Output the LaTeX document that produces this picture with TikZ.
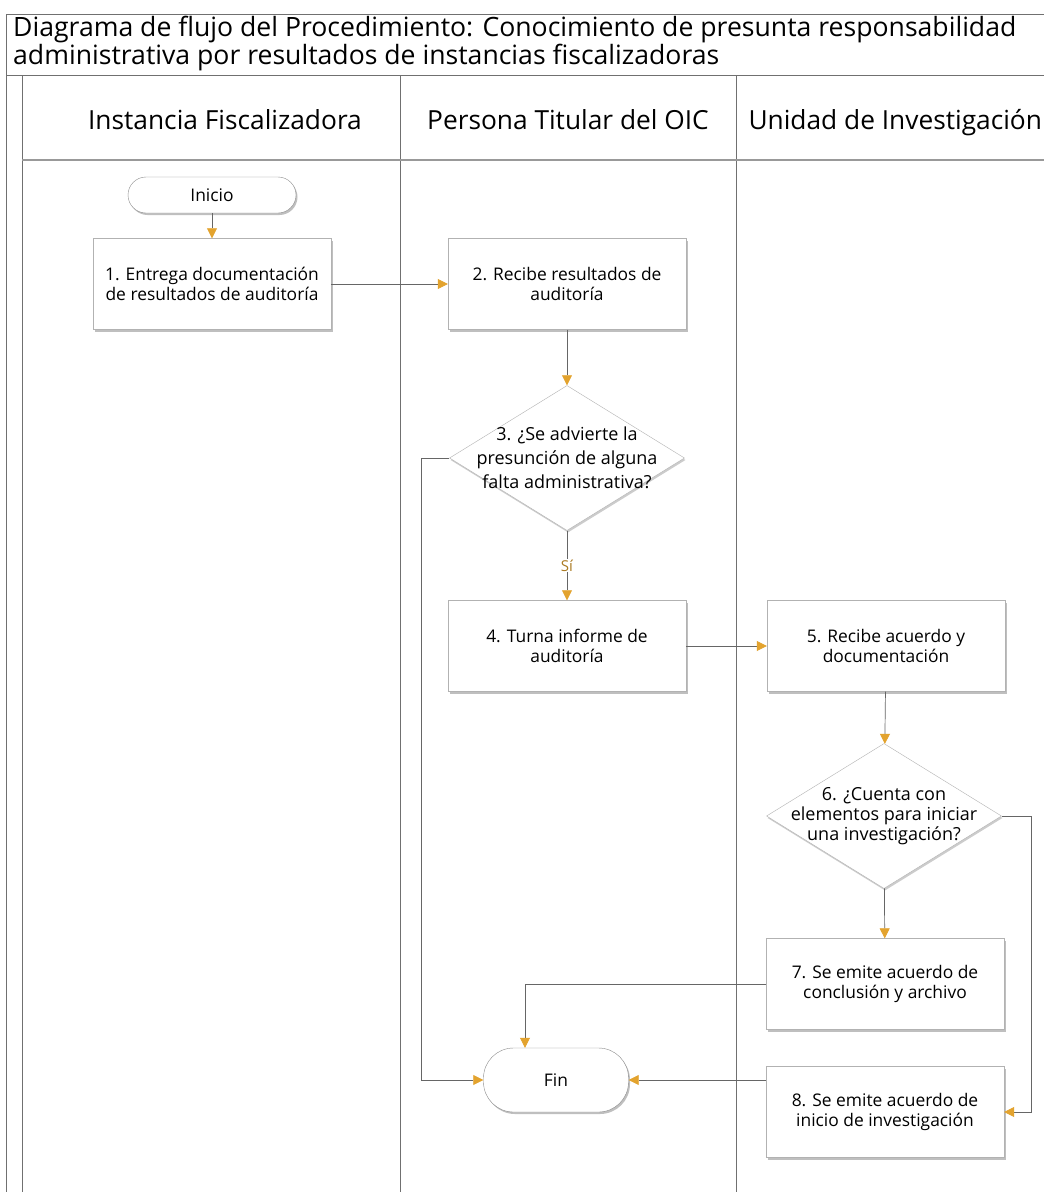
\documentclass[tikz,border=0pt]{standalone}
\usepackage{fontspec}
\setmainfont{Open Sans}
\usetikzlibrary{arrows.meta,shapes.geometric,shadows}
\definecolor{tipgold}{HTML}{E3A32E}
\definecolor{linegray}{HTML}{666666}
\definecolor{framegray}{HTML}{707070}
\begin{document}
\begin{tikzpicture}[x=1pt,y=-1pt,
  frame/.style={draw=framegray, line width=0.8pt},
  proc/.style={draw=black!30, fill=white, minimum width=238pt, minimum height=91pt,
    inner sep=2pt, align=center, font=\fontsize{17.4}{20}\selectfont,
    drop shadow={shadow xshift=1.5pt, shadow yshift=-2.5pt, opacity=0.25, fill=black}},
  term/.style={draw=black!45, fill=white, align=center, font=\fontsize{17.4}{20}\selectfont,
    drop shadow={shadow xshift=1.5pt, shadow yshift=-2pt, opacity=0.25, fill=black}},
  decision/.style={diamond, draw=black!30, fill=white, minimum width=235pt, minimum height=145pt,
    inner sep=0pt,
    drop shadow={shadow xshift=1pt, shadow yshift=-2pt, opacity=0.2, fill=black}},
  dtext/.style={align=center, font=\fontsize{18}{24}\selectfont},
  flow/.style={draw=linegray, line width=0.7pt, -{Triangle[length=10pt,width=10pt,color=tipgold]}},
  lane/.style={font=\fontsize{26.3}{28}\selectfont, anchor=base},
  ttl/.style={font=\fontsize{26.6}{28}\selectfont, align=left, anchor=north west, inner sep=0pt}
]
\useasboundingbox (0,0) rectangle (1044,1192);
\fill[white] (0,0) rectangle (1044,1192);
% frame
\draw[frame] (6,1192) -- (6,14) -- (1044,14);
\draw[frame] (6,75) -- (1044,75);
\draw[frame] (22,75) -- (22,1192);
\draw[frame] (400,75) -- (400,1192);
\draw[frame] (736,75) -- (736,1192);
\draw[draw=black!40, line width=1.4pt] (22,160) -- (1044,160);
% title
\node[ttl] (title) at (13,16) {Diagrama de flujo del Procedimiento: Conocimiento de presunta responsabilidad\\administrativa por resultados de instancias fiscalizadoras};
% lane headers
\node[lane] (h1) at (225,129) {Instancia Fiscalizadora};
\node[lane] (h2) at (568,129) {Persona Titular del OIC};
\node[lane, anchor=base west] (h3) at (745,129) {Unidad de Investigación};
% nodes
\node[term, minimum width=168pt, minimum height=36pt, rounded corners=18pt] (inicio) at (212,195) {Inicio};
\node[proc] (b1) at (212,284) {1. Entrega documentación\\de resultados de auditoría};
\node[proc] (b2) at (567,284) {2. Recibe resultados de\\auditoría};
\node[decision, label={[dtext]center:3. ¿Se advierte la\\presunción de alguna\\falta administrativa?}] (d3) at (567,458) {};
\node[proc] (b4) at (567,646) {4. Turna informe de\\auditoría};
\node[proc] (b5) at (886,646) {5. Recibe acuerdo y\\documentación};
\node[decision, label={[dtext, font=\fontsize{18}{20}\selectfont]center:6. ¿Cuenta con\\elementos para iniciar\\una investigación?}] (d6) at (884,816) {};
\node[proc] (b7) at (885,984) {7. Se emite acuerdo de\\conclusión y archivo};
\node[proc] (b8) at (885,1112) {8. Se emite acuerdo de\\inicio de investigación};
\node[term, minimum width=145pt, minimum height=64pt, rounded corners=30pt] (fin) at (556,1080) {Fin};
% connectors
\draw[flow] (inicio) -- (b1);
\draw[flow] (b1) -- (b2);
\draw[flow] (b2) -- (d3);
\draw[flow] (d3.west) -- ++(-28,0) |- (fin.west);
\draw[flow] (d3) -- node[fill=white, inner sep=1pt, text=tipgold!75!black, font=\fontsize{15}{17}\selectfont] (si) {Sí} (b4);
\draw[flow] (b4) -- (b5);
\draw[flow] (b5) -- (d6);
\draw[flow] (d6) -- (b7);
\draw[flow] (d6.east) -- ++(30,0) |- (b8.east);
\draw[flow] (b7.west) -| ([xshift=-31pt]fin.north);
\draw[flow] (b8.west |- fin.east) -- (fin.east);
\end{tikzpicture}
\end{document}
